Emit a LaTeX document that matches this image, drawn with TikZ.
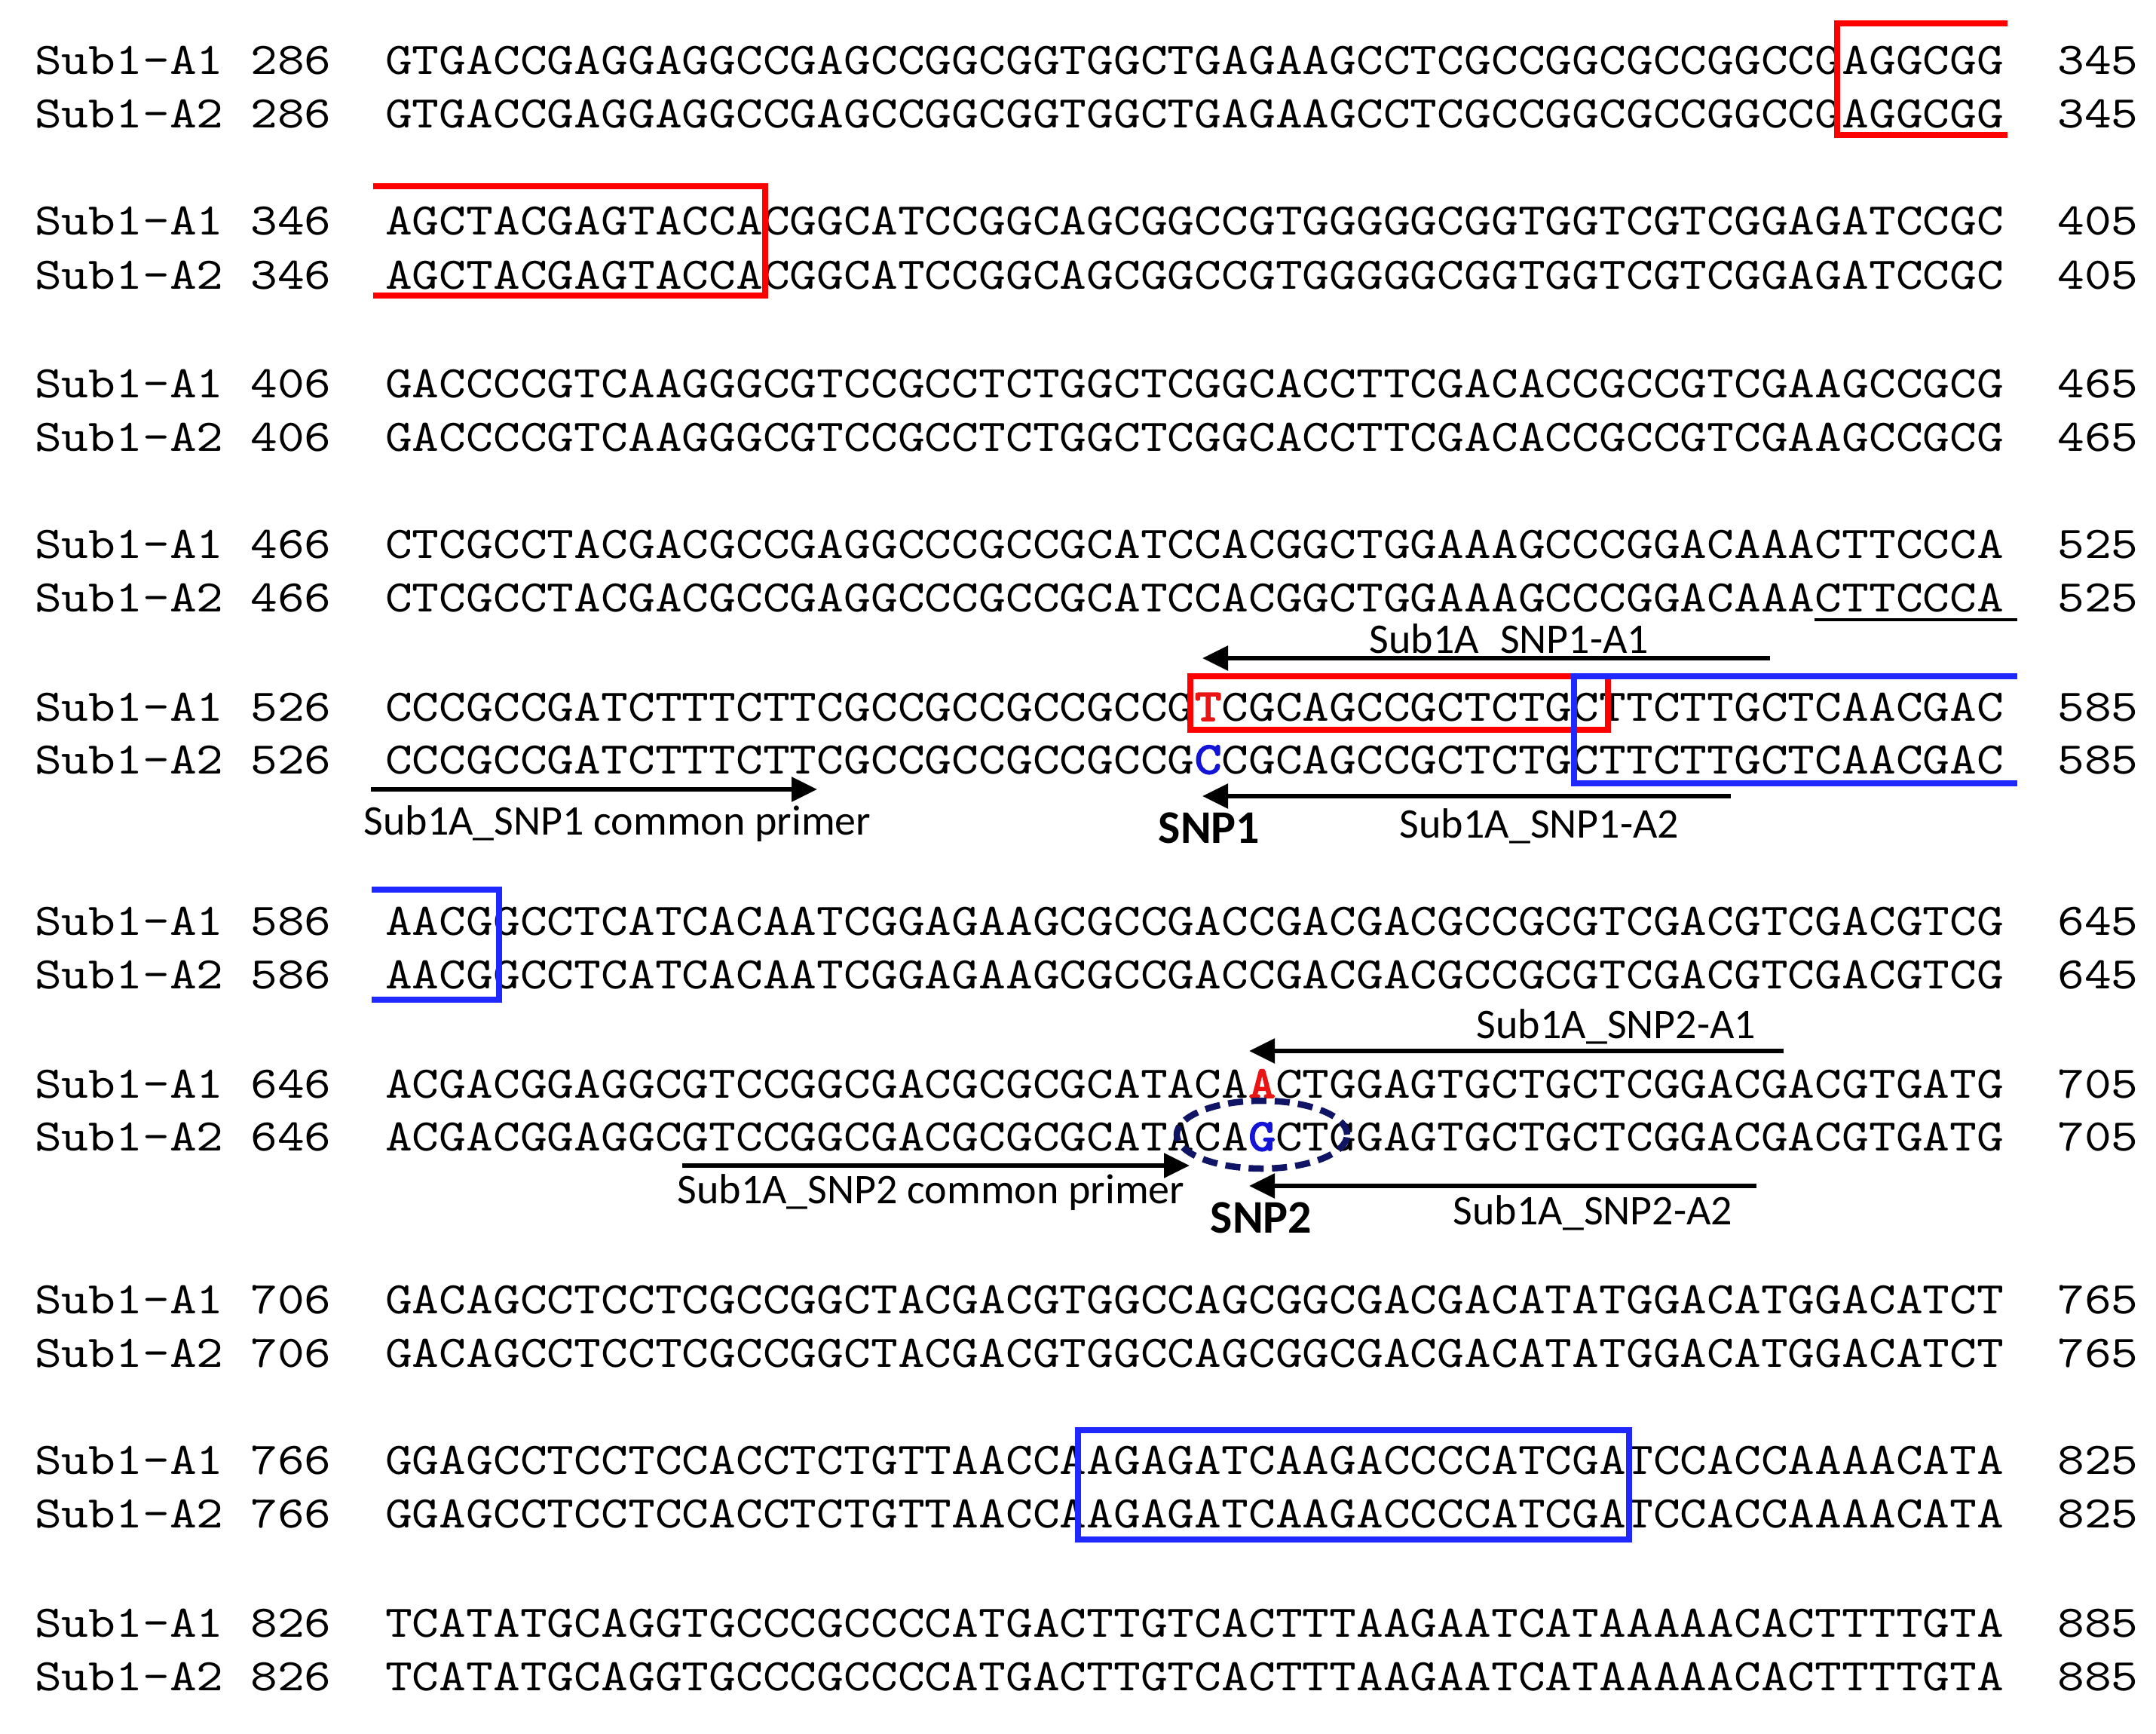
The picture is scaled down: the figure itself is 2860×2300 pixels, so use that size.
\documentclass[tikz,border=0pt]{standalone}
\usepackage{fontspec}
\setmainfont{Liberation Serif}
\newfontfamily\seqfont{lmmono10-regular.otf}[FakeStretch=1.136, BoldFont=lmmono10-regular.otf, BoldFeatures={FakeStretch=1.136, FakeBold=3}]
\newfontfamily\labfont{Carlito}
\usetikzlibrary{arrows.meta}
\definecolor{boxred}{RGB}{255,0,0}
\definecolor{boxblue}{RGB}{30,40,255}
\definecolor{snpred}{RGB}{235,20,20}
\definecolor{snpblue}{RGB}{20,20,215}
\definecolor{navyring}{RGB}{15,20,100}
\tikzset{
  seqrow/.style={anchor=base west, inner sep=0pt, font=\seqfont\fontsize{60}{60}\selectfont},
  plab/.style={anchor=base, inner sep=0pt, font=\labfont\fontsize{56}{56}\selectfont},
  snplab/.style={anchor=base, inner sep=0pt, font=\labfont\bfseries\fontsize{62}{62}\selectfont},
  primer/.style={line width=5.5pt, -{Triangle[length=34pt,width=32pt]}},
  redbox/.style={draw=boxred, line width=8pt, line join=miter},
  bluebox/.style={draw=boxblue, line width=8pt, line join=miter},
  snpring/.style={draw=navyring, line width=8.5pt, dash pattern=on 20pt off 11pt}
}
\newcommand\alnrow[6]{%
  \node[seqrow] (#1l) at (46,#2+18) {#3};
  \node[seqrow] (#1n) at (332.2,#2+18) {#4};
  \node[seqrow] (#1s) at (511,#2+18) {#5};
  \node[seqrow] (#1e) at (2729,#2+18) {#6};
}
\newcommand\Rsnp[1]{\textcolor{snpred}{\bfseries #1}}
\newcommand\Bsnp[1]{\textcolor{snpblue}{\bfseries #1}}
\begin{document}
\begin{tikzpicture}[x=1pt,y=-1pt]
\fill[white] (0,0) rectangle (2860,2300);
\useasboundingbox (0,0) rectangle (2860,2300);

% block 1
\alnrow{ra1}{80}{Sub1-A1}{286}{GTGACCGAGGAGGCCGAGCCGGCGGTGGCTGAGAAGCCTCGCCGGCGCCGGCCGAGGCGG}{345}
\alnrow{rb1}{151}{Sub1-A2}{286}{GTGACCGAGGAGGCCGAGCCGGCGGTGGCTGAGAAGCCTCGCCGGCGCCGGCCGAGGCGG}{345}
% block 2
\alnrow{ra2}{293}{Sub1-A1}{346}{AGCTACGAGTACCACGGCATCCGGCAGCGGCCGTGGGGGCGGTGGTCGTCGGAGATCCGC}{405}
\alnrow{rb2}{365}{Sub1-A2}{346}{AGCTACGAGTACCACGGCATCCGGCAGCGGCCGTGGGGGCGGTGGTCGTCGGAGATCCGC}{405}
% block 3
\alnrow{ra3}{509}{Sub1-A1}{406}{GACCCCGTCAAGGGCGTCCGCCTCTGGCTCGGCACCTTCGACACCGCCGTCGAAGCCGCG}{465}
\alnrow{rb3}{580}{Sub1-A2}{406}{GACCCCGTCAAGGGCGTCCGCCTCTGGCTCGGCACCTTCGACACCGCCGTCGAAGCCGCG}{465}
% block 4
\alnrow{ra4}{722}{Sub1-A1}{466}{CTCGCCTACGACGCCGAGGCCCGCCGCATCCACGGCTGGAAAGCCCGGACAAACTTCCCA}{525}
\alnrow{rb4}{793}{Sub1-A2}{466}{CTCGCCTACGACGCCGAGGCCCGCCGCATCCACGGCTGGAAAGCCCGGACAAACTTCCCA}{525}
% block 5
\alnrow{ra5}{938}{Sub1-A1}{526}{CCCGCCGATCTTTCTTCGCCGCCGCCGCCG\Rsnp{T}CGCAGCCGCTCTGCTTCTTGCTCAACGAC}{585}
\alnrow{rb5}{1008}{Sub1-A2}{526}{CCCGCCGATCTTTCTTCGCCGCCGCCGCCG\Bsnp{C}CGCAGCCGCTCTGCTTCTTGCTCAACGAC}{585}
% block 6
\alnrow{ra6}{1222}{Sub1-A1}{586}{AACGGCCTCATCACAATCGGAGAAGCGCCGACCGACGACGCCGCGTCGACGTCGACGTCG}{645}
\alnrow{rb6}{1293}{Sub1-A2}{586}{AACGGCCTCATCACAATCGGAGAAGCGCCGACCGACGACGCCGCGTCGACGTCGACGTCG}{645}
% block 7
\alnrow{ra7}{1438}{Sub1-A1}{646}{ACGACGGAGGCGTCCGGCGACGCGCGCATACA\Rsnp{A}CTGGAGTGCTGCTCGGACGACGTGATG}{705}
\alnrow{rb7}{1508}{Sub1-A2}{646}{ACGACGGAGGCGTCCGGCGACGCGCGCATACA\Bsnp{G}CTGGAGTGCTGCTCGGACGACGTGATG}{705}
% block 8
\alnrow{ra8}{1724}{Sub1-A1}{706}{GACAGCCTCCTCGCCGGCTACGACGTGGCCAGCGGCGACGACATATGGACATGGACATCT}{765}
\alnrow{rb8}{1795}{Sub1-A2}{706}{GACAGCCTCCTCGCCGGCTACGACGTGGCCAGCGGCGACGACATATGGACATGGACATCT}{765}
% block 9
\alnrow{ra9}{1937}{Sub1-A1}{766}{GGAGCCTCCTCCACCTCTGTTAACCAAGAGATCAAGACCCCATCGATCCACCAAAACATA}{825}
\alnrow{rb9}{2008}{Sub1-A2}{766}{GGAGCCTCCTCCACCTCTGTTAACCAAGAGATCAAGACCCCATCGATCCACCAAAACATA}{825}
% block 10
\alnrow{ra10}{2153}{Sub1-A1}{826}{TCATATGCAGGTGCCCGCCCCATGACTTGTCACTTTAAGAATCATAAAAACACTTTTGTA}{885}
\alnrow{rb10}{2224}{Sub1-A2}{826}{TCATATGCAGGTGCCCGCCCCATGACTTGTCACTTTAAGAATCATAAAAACACTTTTGTA}{885}

% red boxes
\draw[redbox] (2663,31) -- (2437,31) -- (2437,179) -- (2663,179);
\draw[redbox] (495,247) -- (1015,247) -- (1015,392) -- (495,392);
\draw[redbox] (1579,897) rectangle (2133,968);
% blue boxes
\draw[bluebox] (2676,897) -- (2088,897) -- (2088,1039) -- (2676,1039);
\draw[bluebox] (493,1180) -- (662,1180) -- (662,1326) -- (493,1326);
\draw[bluebox] (1430,1897) rectangle (2161,2042);
% underline
\draw[line width=4pt] (2407,822) -- (2676,822);

% SNP1 primers
\coordinate (p1a-s) at (2348,873); \coordinate (p1a-e) at (1595,873);
\coordinate (p1c-s) at (492,1047); \coordinate (p1c-e) at (1084,1047);
\coordinate (p1b-s) at (2296,1056); \coordinate (p1b-e) at (1595,1056);
\draw[primer] (p1a-s) -- (p1a-e);
\draw[primer] (p1c-s) -- (p1c-e);
\draw[primer] (p1b-s) -- (p1b-e);
\node[plab] (l1a) at (2002,866) {Sub1A\_SNP1-A1};
\node[plab] (l1c) at (819,1107) {Sub1A\_SNP1 common primer};
\node[plab] (l1b) at (2042,1111) {Sub1A\_SNP1-A2};
\node[snplab] (snp1) at (1604,1118) {SNP1};

% SNP2 primers
\coordinate (p2a-s) at (2366,1394); \coordinate (p2a-e) at (1657,1394);
\coordinate (p2c-s) at (905,1546); \coordinate (p2c-e) at (1578,1546);
\coordinate (p2b-s) at (2330,1573); \coordinate (p2b-e) at (1657,1573);
\draw[primer] (p2a-s) -- (p2a-e);
\draw[primer] (p2c-s) -- (p2c-e);
\draw[primer] (p2b-s) -- (p2b-e);
\node[plab] (l2a) at (2144,1377) {Sub1A\_SNP2-A1};
\node[plab] (l2c) at (1235,1596) {Sub1A\_SNP2 common primer};
\node[plab] (l2b) at (2113,1624) {Sub1A\_SNP2-A2};
\node[snplab] (snp2) at (1673,1635) {SNP2};

% SNP2 ring
\draw[snpring] (1674,1505) ellipse [x radius=113pt, y radius=45pt];
\end{tikzpicture}
\end{document}
